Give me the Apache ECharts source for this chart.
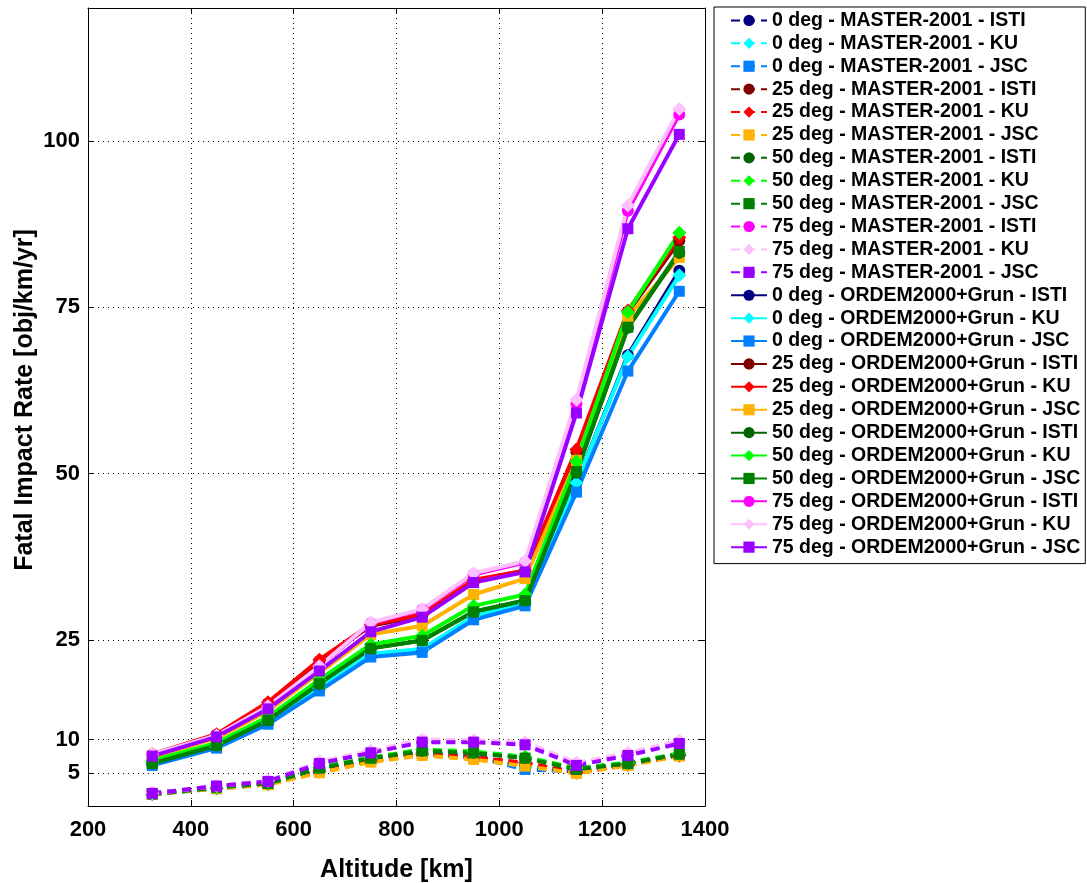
<!DOCTYPE html>
<html><head><meta charset="utf-8">
<script src="https://cdn.jsdelivr.net/npm/echarts@6/dist/echarts.min.js"></script>
<style>html,body{margin:0;padding:0;background:#fff;}#c{width:1087px;height:883px;}</style>
</head><body><div id="c"></div>
<script>
const altitudes = [325, 450, 550, 650, 750, 850, 950, 1050, 1150, 1250, 1350];
const xTicks = [200, 400, 600, 800, 1000, 1200, 1400];
const yTicks = [5, 10, 25, 50, 75, 100];

// MASTER-2001 (dashed)
const m0_ISTI  = [1.8, 2.7, 3.3, 5.4, 7.1, 8.0, 7.6, 5.8, 5.3, 6.3, 7.7];
const m0_KU    = [1.8, 2.7, 3.3, 5.4, 7.1, 8.0, 7.5, 5.7, 5.3, 6.3, 7.7];
const m0_JSC   = [1.8, 2.6, 3.3, 5.3, 7.0, 7.9, 7.4, 5.5, 5.2, 6.2, 7.6];
const m25_ISTI = [1.8, 2.7, 3.3, 5.2, 6.8, 7.8, 7.3, 6.4, 5.1, 6.2, 7.6];
const m25_KU   = [1.8, 2.7, 3.3, 5.2, 6.8, 7.8, 7.3, 6.5, 5.0, 6.2, 7.6];
const m25_JSC  = [1.8, 2.6, 3.2, 5.0, 6.6, 7.6, 7.0, 6.0, 4.9, 6.1, 7.5];
const m50_ISTI = [1.8, 2.8, 3.4, 5.7, 7.2, 8.3, 8.0, 7.2, 5.6, 6.4, 7.8];
const m50_KU   = [1.8, 2.8, 3.4, 5.8, 7.3, 8.5, 8.2, 7.4, 5.7, 6.5, 7.9];
const m50_JSC  = [1.8, 2.8, 3.4, 5.7, 7.2, 8.3, 8.0, 7.2, 5.5, 6.4, 7.8];
const m75_ISTI = [1.9, 3.0, 3.7, 6.5, 8.1, 9.8, 9.7, 9.4, 6.3, 7.8, 9.6];
const m75_KU   = [1.9, 3.0, 3.8, 6.7, 8.3, 10.0, 9.9, 9.6, 6.5, 8.0, 9.8];
const m75_JSC  = [1.9, 3.0, 3.7, 6.4, 8.0, 9.6, 9.6, 9.2, 6.1, 7.6, 9.4];

// ORDEM2000+Grun (solid)
const o0_ISTI  = [6.3, 8.9, 12.5, 17.6, 22.8, 23.5, 28.4, 30.4, 48.6, 67.8, 80.5];
const o0_KU    = [6.3, 8.9, 12.5, 17.7, 22.9, 23.6, 28.5, 30.5, 48.6, 67.6, 79.8];
const o0_JSC   = [6.1, 8.7, 12.3, 17.3, 22.4, 23.1, 28.0, 30.1, 47.2, 65.4, 77.4];
const o25_ISTI = [7.7, 10.7, 15.4, 21.8, 27.1, 28.6, 33.8, 35.3, 53.2, 74.2, 85.0];
const o25_KU   = [7.8, 10.8, 15.6, 22.0, 27.3, 28.8, 34.0, 35.4, 53.6, 74.5, 85.5];
const o25_JSC  = [7.3, 10.2, 14.3, 20.0, 25.8, 27.1, 31.8, 34.2, 52.0, 73.5, 82.5];
const o50_ISTI = [6.4, 9.1, 12.9, 18.4, 23.7, 24.9, 29.2, 30.9, 50.1, 71.9, 83.2];
const o50_KU   = [6.8, 9.5, 13.4, 19.0, 24.3, 25.6, 30.1, 31.8, 51.8, 74.3, 86.2];
const o50_JSC  = [6.4, 9.1, 12.9, 18.4, 23.7, 24.9, 29.2, 30.9, 50.3, 72.0, 83.4];
const o75_ISTI = [7.7, 10.6, 15.0, 21.0, 27.5, 29.5, 34.8, 36.6, 60.5, 89.5, 104.0];
const o75_KU   = [7.8, 10.6, 15.0, 21.0, 27.6, 29.6, 35.0, 36.8, 61.1, 90.3, 104.8];
const o75_JSC  = [7.5, 10.4, 14.6, 20.3, 26.2, 28.4, 33.6, 35.2, 59.1, 86.8, 101.0];

const seriesDefs = [
  ['0 deg - MASTER-2001 - ISTI', m0_ISTI, '#000080', 'circle', true],
  ['0 deg - MASTER-2001 - KU', m0_KU, '#00ffff', 'diamond', true],
  ['0 deg - MASTER-2001 - JSC', m0_JSC, '#0080ff', 'rect', true],
  ['25 deg - MASTER-2001 - ISTI', m25_ISTI, '#800000', 'circle', true],
  ['25 deg - MASTER-2001 - KU', m25_KU, '#ff0000', 'diamond', true],
  ['25 deg - MASTER-2001 - JSC', m25_JSC, '#ffb300', 'rect', true],
  ['50 deg - MASTER-2001 - ISTI', m50_ISTI, '#006400', 'circle', true],
  ['50 deg - MASTER-2001 - KU', m50_KU, '#00ff00', 'diamond', true],
  ['50 deg - MASTER-2001 - JSC', m50_JSC, '#008000', 'rect', true],
  ['75 deg - MASTER-2001 - ISTI', m75_ISTI, '#ff00ff', 'circle', true],
  ['75 deg - MASTER-2001 - KU', m75_KU, '#ffc0ff', 'diamond', true],
  ['75 deg - MASTER-2001 - JSC', m75_JSC, '#9900ff', 'rect', true],
  ['0 deg - ORDEM2000+Grun - ISTI', o0_ISTI, '#000080', 'circle', false],
  ['0 deg - ORDEM2000+Grun - KU', o0_KU, '#00ffff', 'diamond', false],
  ['0 deg - ORDEM2000+Grun - JSC', o0_JSC, '#0080ff', 'rect', false],
  ['25 deg - ORDEM2000+Grun - ISTI', o25_ISTI, '#800000', 'circle', false],
  ['25 deg - ORDEM2000+Grun - KU', o25_KU, '#ff0000', 'diamond', false],
  ['25 deg - ORDEM2000+Grun - JSC', o25_JSC, '#ffb300', 'rect', false],
  ['50 deg - ORDEM2000+Grun - ISTI', o50_ISTI, '#006400', 'circle', false],
  ['50 deg - ORDEM2000+Grun - KU', o50_KU, '#00ff00', 'diamond', false],
  ['50 deg - ORDEM2000+Grun - JSC', o50_JSC, '#008000', 'rect', false],
  ['75 deg - ORDEM2000+Grun - ISTI', o75_ISTI, '#ff00ff', 'circle', false],
  ['75 deg - ORDEM2000+Grun - KU', o75_KU, '#ffc0ff', 'diamond', false],
  ['75 deg - ORDEM2000+Grun - JSC', o75_JSC, '#9900ff', 'rect', false]
];

const FONT = "'Liberation Sans', Arial, sans-serif";
const symSize = {circle: 12, diamond: 14, rect: 11};

const series = seriesDefs.map(([name, vals, color, sym, dashed]) => ({
  name: name,
  type: 'line',
  data: altitudes.map((a, i) => [a, vals[i]]),
  symbol: sym,
  symbolSize: symSize[sym],
  showSymbol: true,
  animation: false,
  lineStyle: {color: color, width: 4, type: dashed ? [9, 6] : 'solid'},
  itemStyle: {color: color, borderWidth: 0},
  emphasis: {disabled: true}
}));

const gridLine = {show: true, lineStyle: {color: '#000', type: [1, 4], width: 1}};
const chart = echarts.init(document.getElementById('c'), null, {renderer: 'canvas'});
chart.setOption({
  backgroundColor: '#fff',
  animation: false,
  grid: {left: 88, top: 8, width: 617, height: 798, containLabel: false, outerBoundsMode: 'none'},
  xAxis: [{
    type: 'value', min: 200, max: 1400, interval: 200, position: 'bottom',
    name: 'Altitude [km]', nameLocation: 'middle', nameGap: 52, nameMoveOverlap: false,
    nameTextStyle: {fontFamily: FONT, fontWeight: 'bold', fontSize: 25, color: '#000'},
    axisLine: {show: true, onZero: false, lineStyle: {color: '#000', width: 1}},
    axisTick: {show: true, inside: true, length: 6, lineStyle: {color: '#000'}},
    axisLabel: {fontFamily: FONT, fontWeight: 'bold', fontSize: 22, color: '#000', margin: 13,
      formatter: v => String(v)},
    splitLine: gridLine
  }, {
    type: 'value', min: 200, max: 1400, interval: 200, position: 'top',
    axisLine: {show: true, onZero: false, lineStyle: {color: '#000', width: 1}},
    axisTick: {show: true, inside: true, length: 6, lineStyle: {color: '#000'}},
    axisLabel: {show: false}, splitLine: {show: false}
  }],
  yAxis: [{
    type: 'value', min: 0, max: 120, position: 'left',
    name: 'Fatal Impact Rate [obj/km/yr]', nameLocation: 'middle', nameGap: 50, nameMoveOverlap: false,
    nameTextStyle: {fontFamily: FONT, fontWeight: 'bold', fontSize: 25, color: '#000', padding: [0, 0, 0, 14]},
    axisLine: {show: true, onZero: false, lineStyle: {color: '#000', width: 1}},
    axisTick: {show: true, inside: true, length: 6, customValues: yTicks, lineStyle: {color: '#000'}},
    axisLabel: {fontFamily: FONT, fontWeight: 'bold', fontSize: 22, color: '#000', margin: 8, customValues: yTicks,
      formatter: v => String(v)},
    splitLine: gridLine
  }, {
    type: 'value', min: 0, max: 120, position: 'right',
    axisLine: {show: true, onZero: false, lineStyle: {color: '#000', width: 1}},
    axisTick: {show: true, inside: true, length: 6, customValues: yTicks, lineStyle: {color: '#000'}},
    axisLabel: {show: false, customValues: yTicks}, splitLine: {show: false}
  }],
  legend: {
    orient: 'vertical', left: 714, top: 7,
    padding: [2, 5, 5, 16],
    backgroundColor: '#fff', borderColor: '#000', borderWidth: 1,
    itemWidth: 36, itemHeight: 14, itemGap: 0,
    textStyle: {fontFamily: FONT, fontWeight: 'bold', fontSize: 19.5, color: '#000', lineHeight: 22.9},
    data: seriesDefs.map(d => d[0])
  },
  series: series
});
</script></body></html>
